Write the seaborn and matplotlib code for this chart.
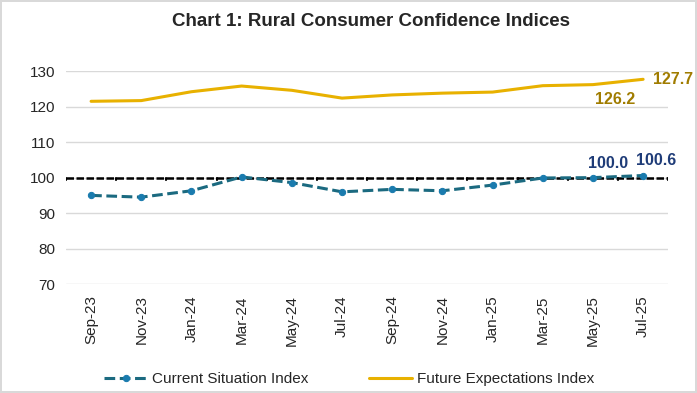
import numpy as np
import pandas as pd
import matplotlib.pyplot as plt
import seaborn as sns

# data
months = ['Sep-23', 'Nov-23', 'Jan-24', 'Mar-24', 'May-24', 'Jul-24',
          'Sep-24', 'Nov-24', 'Jan-25', 'Mar-25', 'May-25', 'Jul-25']
current = [95.0, 94.5, 96.3, 100.2, 98.6, 96.0, 96.7, 96.3, 97.9, 99.9, 100.0, 100.6]
future = [121.5, 121.7, 124.2, 125.8, 124.6, 122.4, 123.3, 123.8, 124.1, 125.9, 126.2, 127.7]

df = pd.DataFrame({'month': months, 'Current Situation Index': current,
                   'Future Expectations Index': future})

sns.set_style('white')
plt.rcParams['font.family'] = ['Liberation Sans', 'DejaVu Sans']

fig = plt.figure(figsize=(6.97, 3.93), dpi=100, linewidth=1.5, edgecolor='#d9d9d9')
ax = fig.add_axes([0.0947, 0.277, 0.864, 0.542])

gold = '#E8B100'
teal = '#1B6A80'

sns.lineplot(data=df, x='month', y='Future Expectations Index', ax=ax, color=gold,
             linewidth=2.2, label='Future Expectations Index', sort=False)
sns.lineplot(data=df, x='month', y='Current Situation Index', ax=ax, color=teal,
             linewidth=2.2, linestyle=(0, (3.5, 1.5)), marker='o', markersize=4.5,
             markerfacecolor='#1A7BAE', markeredgecolor='#1A7BAE',
             label='Current Situation Index', sort=False)

# reference line at 100 (category axis crosses here)
ax.axhline(100, color='black', linestyle=(0, (3, 1)), linewidth=1.8, zorder=1)
for b in np.arange(len(months) + 1) - 0.5:
    ax.plot([b, b], [100, 99.2], color='black', linewidth=1.5, zorder=1)

ax.set_xlim(-0.5, len(months) - 0.5)
ax.set_ylim(70, 130)
ax.set_yticks(range(70, 131, 10))
ax.yaxis.grid(True, color='#d9d9d9', linewidth=1)
ax.set_axisbelow(True)
for s in ax.spines.values():
    s.set_visible(False)
ax.set_xlabel('')
ax.set_ylabel('')
ax.tick_params(axis='x', labelrotation=90, labelsize=11, length=0, pad=8)
ax.tick_params(axis='y', labelsize=11, length=0, pad=8)

# data labels
n = len(months) - 1
ax.text(n - 1 + 0.45, future[n - 1] - 2.2, f'{future[n - 1]:.1f}', ha='center', va='top',
        fontsize=11.5, fontweight='bold', color='#A07C00')
ax.text(n + 0.2, future[n], f'{future[n]:.1f}', ha='left', va='center',
        fontsize=11.5, fontweight='bold', color='#A07C00', clip_on=False)
ax.text(n - 1 + 0.3, current[n - 1] + 2.0, f'{current[n - 1]:.1f}', ha='center', va='bottom',
        fontsize=11.5, fontweight='bold', color='#1F3C78')
ax.text(n + 0.25, current[n] + 2.0, f'{current[n]:.1f}', ha='center', va='bottom',
        fontsize=11.5, fontweight='bold', color='#1F3C78', clip_on=False)

fig.text(0.532, 0.945, 'Chart 1: Rural Consumer Confidence Indices', ha='center', va='center',
         fontsize=13.5, fontweight='bold')

h, l = ax.get_legend_handles_labels()
ax.legend([h[1], h[0]], [l[1], l[0]], loc='lower center', ncol=2, frameon=False,
          bbox_to_anchor=(0.47, -0.545), fontsize=11, handlelength=2.8,
          columnspacing=4, handletextpad=0.3)

fig.savefig('out.png', dpi=100)
